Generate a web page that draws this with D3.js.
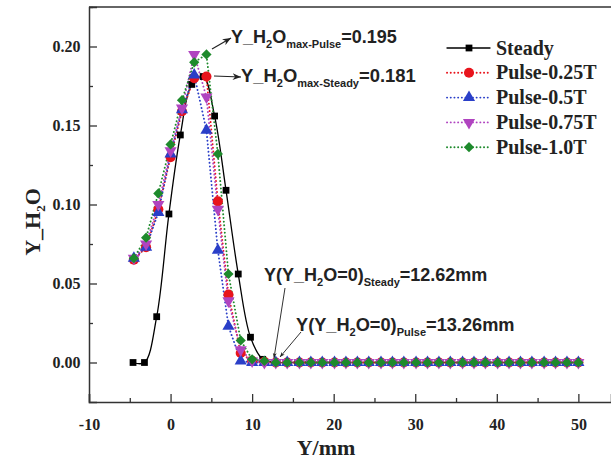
<!DOCTYPE html>
<html><head><meta charset="utf-8">
<script src="https://cdn.jsdelivr.net/npm/d3@7"></script>
<style>body{margin:0;background:#fff}svg{display:block}</style>
</head><body>
<script>
// ---- data ----
const xSteady = [-4.6,-3.2,-1.7,-0.2,1.2,2.6,4.0,5.4,6.8,8.3,9.8,11.3,12.7,14.2,15.6,17.0,18.5,19.9,21.3,22.8,24.2,25.6,27.1,28.5,29.9,31.4,32.8,34.2,35.7,37.1,38.5,40.0,41.4,42.8,44.3,45.7,47.1,48.6,50.0];
const xPulse = [-4.5,-3.0,-1.5,0.0,1.4,2.9,4.4,5.8,7.1,8.6,10.0,11.5,12.9,14.3,15.8,17.2,18.6,20.1,21.5,22.9,24.3,25.8,27.2,28.6,30.1,31.5,32.9,34.3,35.8,37.2,38.6,40.1,41.5,42.9,44.3,45.8,47.2,48.6,50.0];
const steady   = [0,0,0.029,0.094,0.144,0.176,0.181,0.156,0.109,0.056,0.016,0.002,0,0,0,0,0,0,0,0,0,0,0,0,0,0,0,0,0,0,0,0,0,0,0,0,0,0,0];
const pulse025 = [0.065,0.073,0.097,0.130,0.159,0.180,0.181,0.102,0.043,0.006,0.001,0.0005,0,0,0,0,0,0,0,0,0,0,0,0,0,0,0,0,0,0,0,0,0,0,0,0,0,0,0];
const pulse05  = [0.066,0.073,0.095,0.132,0.160,0.182,0.147,0.071,0.023,0.001,0,0,0,0,0,0,0,0,0,0,0,0,0,0,0,0,0,0,0,0,0,0,0,0,0,0,0,0,0];
const pulse075 = [0.066,0.075,0.100,0.134,0.161,0.195,0.168,0.097,0.039,0.008,0.001,0,0,0,0,0,0,0,0,0,0,0,0,0,0,0,0,0,0,0,0,0,0,0,0,0,0,0,0];
const pulse10  = [0.066,0.079,0.107,0.138,0.166,0.190,0.195,0.132,0.056,0.014,0.002,0.001,0,0,0,0,0,0,0,0,0,0,0,0,0,0,0,0,0,0,0,0,0,0,0,0,0,0,0];
const seriesNames = ["Steady","Pulse-0.25T","Pulse-0.5T","Pulse-0.75T","Pulse-1.0T"];
const xTicks = [-10,0,10,20,30,40,50];
const yTicks = [0.00,0.05,0.10,0.15,0.20];

const W=611,H=468;
const svg=d3.select("body").append("svg").attr("width",W).attr("height",H);
const x=d3.scaleLinear().domain([-10,54]).range([89,611]);
const y=d3.scaleLinear().domain([-0.025,0.225]).range([402,7]);
const serif="'Liberation Serif','Times New Roman',serif";
const sans="'Liberation Sans',Arial,sans-serif";
const axisCol="#333";
const DOT="0.1,3.6";

const defs=svg.append("defs");
defs.append("marker").attr("id","arr").attr("viewBox","0 0 10 10").attr("refX",10).attr("refY",5)
  .attr("markerWidth",7).attr("markerHeight",7).attr("orient","auto")
  .append("path").attr("d","M0,1 L10,5 L0,9 L3,5 Z").attr("fill","#222");
defs.append("marker").attr("id","arrs").attr("viewBox","0 0 10 10").attr("refX",10).attr("refY",5)
  .attr("markerWidth",5).attr("markerHeight",5).attr("orient","auto")
  .append("path").attr("d","M0,1 L10,5 L0,9 L3,5 Z").attr("fill","#222");

// frame
svg.append("line").attr("x1",89).attr("x2",612).attr("y1",7).attr("y2",7).attr("stroke",axisCol).attr("stroke-width",1.5);

// axes with inward ticks
const gx=svg.append("g").attr("transform","translate(0,402)")
  .call(d3.axisBottom(x).tickValues(d3.range(-10,55,5)).tickSize(-8).tickFormat(d=>xTicks.includes(d)?d:""));
gx.selectAll(".tick line").attr("y2",d=>xTicks.includes(d)?-8:-4);
const gy=svg.append("g").attr("transform","translate(89,0)")
  .call(d3.axisLeft(y).tickValues(d3.range(-0.025,0.226,0.025).map(v=>+v.toFixed(3))).tickSize(-8).tickFormat(d=>yTicks.some(t=>Math.abs(t-d)<1e-9)?d3.format(".2f")(d):""));
gy.selectAll(".tick line").attr("x2",d=>yTicks.some(t=>Math.abs(t-d)<1e-9)?8:4);
[gx,gy].forEach(g=>{
  g.select(".domain").attr("stroke",axisCol).attr("stroke-width",1.5);
  g.selectAll(".tick line").attr("stroke",axisCol).attr("stroke-width",1.3);
  g.selectAll(".tick text").attr("font-family",serif).attr("font-weight","bold").attr("font-size",16).attr("fill","#222");
});
gx.selectAll(".tick text").attr("dy","1.55em");
gy.selectAll(".tick text").attr("dx","-0.35em");
gy.selectAll(".tick line").filter(d=>d<0).remove();

// axis titles
svg.append("text").attr("x",326).attr("y",455).attr("text-anchor","middle").attr("font-family",serif)
  .attr("font-weight","bold").attr("font-size",22).attr("fill","#222").text("Y/mm");
const yl=svg.append("text").attr("transform","translate(40,222) rotate(-90)").attr("text-anchor","middle")
  .attr("font-family",serif).attr("font-weight","bold").attr("font-size",22).attr("fill","#222");
yl.append("tspan").text("Y_H");
yl.append("tspan").attr("font-size",13).attr("dy",5).text("2");
yl.append("tspan").attr("dy",-5).text("O");

// series
const series=[
  {name:seriesNames[0],xs:xSteady,ys:steady,color:"#000",sym:d3.symbolSquare,size:46,rot:0,dash:null,curve:d3.curveCatmullRom},
  {name:seriesNames[1],xs:xPulse,ys:pulse025,color:"#e8141c",sym:d3.symbolCircle,size:80,rot:0,dash:DOT,curve:d3.curveLinear},
  {name:seriesNames[2],xs:xPulse,ys:pulse05,color:"#2a3fc8",sym:d3.symbolTriangle,size:64,rot:0,dash:DOT,curve:d3.curveLinear},
  {name:seriesNames[3],xs:xPulse,ys:pulse075,color:"#b044c0",sym:d3.symbolTriangle,size:64,rot:180,dash:DOT,curve:d3.curveLinear},
  {name:seriesNames[4],xs:xPulse,ys:pulse10,color:"#1e8a2c",sym:d3.symbolSquare,size:52,rot:45,dash:DOT,curve:d3.curveLinear}
];
series.forEach(s=>{
  const pts=s.xs.map((v,i)=>[v,s.ys[i]]);
  const line=d3.line().x(d=>x(d[0])).y(d=>y(d[1])).curve(s.curve);
  svg.append("path").attr("d",line(pts)).attr("fill","none").attr("stroke",s.color)
    .attr("stroke-width",s.dash?1.9:1.3).attr("stroke-dasharray",s.dash).attr("stroke-linecap","round");
});
series.forEach(s=>{
  const pts=s.xs.map((v,i)=>[v,s.ys[i]]);
  svg.append("g").selectAll("path").data(pts).join("path")
    .attr("transform",d=>`translate(${x(d[0])},${y(d[1])}) rotate(${s.rot})`)
    .attr("d",d3.symbol().type(s.sym).size(s.size)).attr("fill",s.color);
});

// legend
const lg=svg.append("g");
series.forEach((s,i)=>{
  const cy=48+i*24.8;
  lg.append("line").attr("x1",447).attr("x2",490).attr("y1",cy).attr("y2",cy).attr("stroke",s.color)
    .attr("stroke-width",s.dash?1.9:1.3).attr("stroke-dasharray",s.dash).attr("stroke-linecap","round");
  lg.append("path").attr("transform",`translate(469,${cy}) rotate(${s.rot})`)
    .attr("d",d3.symbol().type(s.sym).size(s.size)).attr("fill",s.color);
  lg.append("text").attr("x",496).attr("y",cy+6.5).attr("font-family",serif).attr("font-weight","bold")
    .attr("font-size",20).attr("fill","#222").text(s.name);
});

// annotations
function ann(tx,ty,parts,fs){
  const t=svg.append("text").attr("x",tx).attr("y",ty).attr("font-family",sans).attr("font-weight","bold")
    .attr("font-size",fs).attr("fill","#222");
  parts.forEach(p=>{ t.append("tspan").attr("font-size",p[1]||fs).attr("dy",p[2]||0).text(p[0]); });
}
svg.append("line").attr("x1",212).attr("y1",49).attr("x2",231).attr("y2",38).attr("stroke","#222").attr("stroke-width",1.2).attr("marker-end","url(#arr)");
ann(231,43,[["Y_H"],["2",11,5],["O",null,-5],["max-Pulse",11,5],["=0.195",null,-5]],18);
svg.append("line").attr("x1",214).attr("y1",76).attr("x2",241).attr("y2",77).attr("stroke","#222").attr("stroke-width",1.2).attr("marker-end","url(#arr)");
ann(241,82,[["Y_H"],["2",11,5],["O",null,-5],["max-Steady",11,5],["=0.181",null,-5]],18.4);

svg.append("line").attr("x1",285).attr("y1",288).attr("x2",274).attr("y2",358).attr("stroke","#333").attr("stroke-width",1).attr("marker-end","url(#arrs)");
ann(264,281,[["Y(Y_H"],["2",11,5],["O=0)",null,-5],["Steady",11,5],["=12.62mm",null,-5]],18);
svg.append("line").attr("x1",301).attr("y1",332).attr("x2",280).attr("y2",357).attr("stroke","#333").attr("stroke-width",1).attr("marker-end","url(#arrs)");
ann(296,331,[["Y(Y_H"],["2",11,5],["O=0)",null,-5],["Pulse",11,5],["=13.26mm",null,-5]],18.2);
</script>
</body></html>
